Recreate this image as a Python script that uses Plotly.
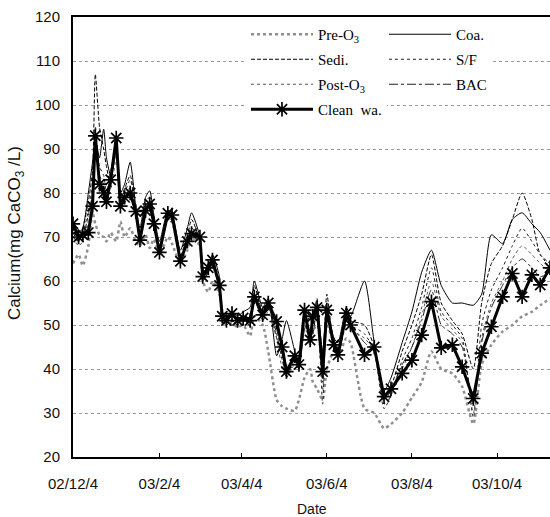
import plotly.graph_objects as go

dates = [
    "2002-12-04", "2002-12-08", "2002-12-11", "2002-12-15", "2002-12-18", "2002-12-20", "2002-12-23", "2002-12-26", "2002-12-28", "2002-12-31",
    "2003-01-04", "2003-01-07", "2003-01-10", "2003-01-14", "2003-01-18", "2003-01-21", "2003-01-25", "2003-01-28", "2003-01-31", "2003-02-04",
    "2003-02-10", "2003-02-13", "2003-02-19", "2003-02-24", "2003-02-27", "2003-03-05", "2003-03-07", "2003-03-11", "2003-03-14", "2003-03-19",
    "2003-03-21", "2003-03-24", "2003-03-28", "2003-04-01", "2003-04-05", "2003-04-10", "2003-04-13", "2003-04-19", "2003-04-23", "2003-04-29",
    "2003-05-03", "2003-05-06", "2003-05-12", "2003-05-15", "2003-05-19", "2003-05-23", "2003-05-25", "2003-05-28", "2003-06-01", "2003-06-04",
    "2003-06-09", "2003-06-12", "2003-06-18", "2003-06-21", "2003-07-01", "2003-07-08", "2003-07-15", "2003-07-20", "2003-07-28", "2003-08-04",
    "2003-08-11", "2003-08-18", "2003-08-25", "2003-09-02", "2003-09-09", "2003-09-17", "2003-09-23", "2003-09-30", "2003-10-08", "2003-10-15",
    "2003-10-22", "2003-10-29", "2003-11-04", "2003-11-11",
]

clean_wa = [
    73, 70, 70.5, 71, 77, 93, 82, 80, 78, 83,
    92.5, 77, 79, 80, 75.8, 69.3, 76, 77.5, 73, 66.5,
    75.4, 75, 64.5, 69, 70.8, 70, 61, 63, 64.8, 59,
    52, 51, 52.6, 51, 51.6, 51, 56.4, 52.3, 55, 50.8,
    45, 39.4, 43, 41, 53.4, 46.6, 52, 54, 39.4, 53.4,
    45.5, 43.2, 52.7, 50, 43.2, 45, 33.7, 35.5, 39, 42,
    47.7, 55.3, 44.8, 45.5, 40.5, 33.3, 43.6, 49.6, 56.4, 61.7,
    56.4, 61.4, 59.1, 63,
]

pre_o3 = [
    64, 66, 63.5, 68, 75.5, 73, 70.5, 70, 69, 71,
    69, 73.5, 70, 72, 69, 68, 70.5, 67.5, 69.5, 66,
    70, 68.5, 64, 67, 70, 68, 60, 57.5, 60, 57,
    52, 50, 50.5, 49.5, 50, 47.5, 52, 50, 44, 33,
    31.5, 31, 30.5, 33, 38, 40, 37, 35.5, 33, 40,
    44, 43, 47, 46, 31, 30, 26.5, 27.5, 30, 33.5,
    37, 44, 40, 39, 36, 27.5, 41, 45.5, 48.5, 50,
    52, 53, 54.5, 56,
]

coa = [
    72, 71, 72, 80, 87, 92, 88, 94.5, 88, 84,
    90, 80, 82, 87, 77, 72, 79, 80.5, 75, 69,
    76, 75.5, 67, 72, 75.5, 70, 62, 63, 66, 61,
    53, 52, 53, 52, 53, 54, 60, 54, 56, 43,
    47, 51, 44, 40, 49, 52, 48, 54, 44, 54,
    47, 46, 54, 52, 60, 46, 35, 38, 46, 53,
    62, 67, 59, 55, 55, 54.5, 57, 70.5, 68.5, 74,
    75.5, 73, 71, 67,
]

sedi = [
    71, 69, 72, 78, 85, 107, 95, 90, 86, 82,
    91, 79, 81, 84, 76, 70, 78, 79, 74, 67,
    75, 74, 65, 70, 74, 69, 60, 62, 64, 59,
    52, 51, 52, 51, 52, 51, 59, 53, 55, 47,
    44, 40, 42, 41, 52, 48, 51, 56, 40, 57,
    46, 45, 53, 51, 50, 45, 34, 36, 44, 50,
    57, 66, 55, 51, 48, 40, 55, 64, 68, 74,
    80, 74, 66, 64,
]

sf = [
    71, 70, 71, 76, 82, 95, 86, 84, 80, 85,
    90, 78, 80, 83, 76, 71, 77, 78, 74, 68,
    75, 74, 66, 70, 72, 70, 61, 62, 65, 60,
    52, 51, 52, 51, 51, 50, 57, 52, 54, 48,
    42, 39, 42, 41, 51, 46, 50, 52, 32, 52,
    45, 44, 51, 50, 48, 44, 31, 34, 42, 47,
    54, 63, 53, 50, 47, 29, 50, 58, 63, 68,
    72, 69, 66, 63,
]

post_o3 = [
    70, 68, 69, 74, 80, 90, 84, 82, 80, 81,
    88, 78, 80, 81, 75, 70, 77, 78, 73, 67,
    74, 73, 65, 69, 71, 69, 60, 62, 63, 58,
    51, 50, 51, 50, 50, 50, 56, 51, 53, 47,
    40, 38, 41, 40, 50, 45, 48, 50, 35, 50,
    45, 43, 50, 49, 47, 44, 32, 34, 40, 45,
    52, 60, 52, 49, 46, 30, 47, 55, 60, 65,
    68, 66, 64, 62,
]

bac = [
    70, 69, 70, 75, 80, 92, 83, 81, 79, 83,
    89, 77, 79, 81, 75, 70, 76, 77, 73, 67,
    74, 74, 65, 69, 71, 69, 60, 62, 64, 58,
    51, 50, 51, 50, 51, 50, 56, 51, 54, 49,
    43, 38, 42, 40, 52, 46, 51, 53, 37, 52,
    45, 43, 51, 50, 46, 44, 33, 35, 41, 45,
    51, 58, 50, 48, 45, 32, 46, 54, 59, 63,
    65, 63, 61, 62,
]

tick_dates = ["2002-12-04", "2003-02-04", "2003-04-04", "2003-06-04", "2003-08-04", "2003-10-04"]
tick_text = ["02/12/4", "03/2/4", "03/4/4", "03/6/4", "03/8/4", "03/10/4"]
y_ticks = [20, 30, 40, 50, 60, 70, 80, 90, 100, 110, 120]

fig = go.Figure()

def thin(name, vals, color, dash, width, legend):
    fig.add_trace(go.Scatter(
        x=dates, y=vals, name=name, mode="lines", legend=legend, legendgroup=name,
        line=dict(color=color, width=width, dash=dash, shape="spline", smoothing=0.6),
    ))

thin("Pre-O<sub>3</sub>", pre_o3, "#8f8f8f", "dot", 2.5, "legend")
thin("Coa.", coa, "#000000", "solid", 1, "legend2")
thin("Sedi.", sedi, "#000000", "4px,2px", 1, "legend")
thin("S/F", sf, "#222222", "dot", 1, "legend2")
thin("Post-O<sub>3</sub>", post_o3, "#555555", "dot", 1, "legend")
thin("BAC", bac, "#222222", "dashdot", 1, "legend2")

fig.add_trace(go.Scatter(
    x=dates, y=clean_wa, name="Clean  wa.", mode="lines+markers", legend="legend", legendgroup="clean",
    line=dict(color="#000000", width=3),
    marker=dict(symbol="asterisk-open", size=12, color="#000000", line=dict(color="#000000", width=1.7)),
))

legend_font = dict(family="Liberation Serif, Times New Roman, serif", size=15, color="#000000")
fig.update_layout(
    width=550, height=517,
    margin=dict(l=73, r=0, t=17, b=60),
    plot_bgcolor="white", paper_bgcolor="white",
    font=dict(family="Liberation Sans, Arial, sans-serif", color="#111111"),
    showlegend=True,
    legend=dict(
        x=(246 - 73) / 477, xanchor="left",
        y=(457 - 18) / 440, yanchor="top",
        itemwidth=62, tracegroupgap=2.5,
        bgcolor="white", font=legend_font, traceorder="grouped",
    ),
    legend2=dict(
        x=(384 - 73) / 477, xanchor="left",
        y=(457 - 18) / 440, yanchor="top",
        itemwidth=62, tracegroupgap=2.5,
        bgcolor="white", font=legend_font, traceorder="grouped",
    ),
    annotations=[
        dict(text="Date", x=0.5, xref="paper", y=(457 - 509) / 440, yref="paper",
             xanchor="center", yanchor="middle", showarrow=False,
             font=dict(family="Liberation Sans, Arial, sans-serif", size=14, color="#111111")),
        dict(text="Calcium(mg CaCO<sub>3</sub> /L)", x=(16 - 73) / 477, xref="paper",
             y=(457 - 233) / 440, yref="paper", textangle=-90,
             xanchor="center", yanchor="middle", showarrow=False,
             font=dict(family="Liberation Sans, Arial, sans-serif", size=17, color="#111111")),
    ],
)

fig.update_xaxes(
    type="date", range=["2002-12-04", "2003-11-11"],
    tickvals=tick_dates, ticktext=tick_text,
    ticks="inside", ticklen=4, tickcolor="#000000", tickwidth=1,
    showline=True, linecolor="#000000", linewidth=2, mirror=True,
    showgrid=False, zeroline=False,
    tickfont=dict(family="Liberation Sans, Arial, sans-serif", size=15, color="#111111"),
    ticklabelstandoff=12,
)
fig.update_yaxes(
    range=[20, 120], tickvals=y_ticks,
    showline=True, linecolor="#000000", linewidth=2,
    showgrid=True, gridcolor="#9a9a9a", griddash="dot", gridwidth=1,
    zeroline=False, ticks="",
    tickfont=dict(family="Liberation Sans, Arial, sans-serif", size=15, color="#111111"),
    ticklabelstandoff=8,
)

fig.write_html("out.html", config={"displayModeBar": False},
               post_script="document.body.style.margin='0';")
